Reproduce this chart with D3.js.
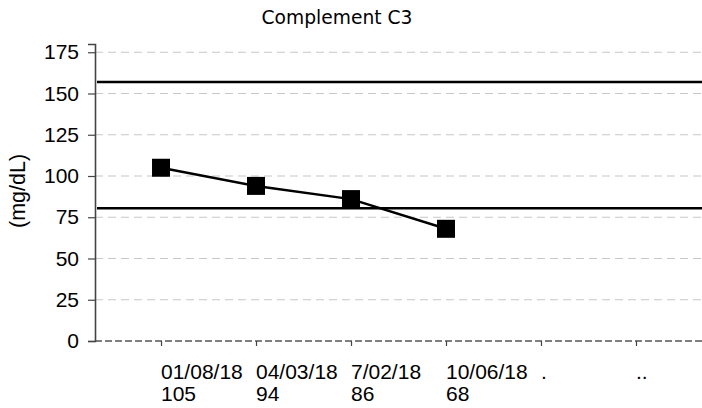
<!DOCTYPE html>
<html lang="en">
<head>
<meta charset="utf-8">
<title>Complement C3</title>
<script src="https://d3js.org/d3.v7.min.js"></script>
<style>
body { margin: 0; background: #fff; }
text { fill: #000; }
</style>
</head>
<body>
<div id="vis"></div>
<script type="text/javascript">

/////////////////// Data //////////////
var dates = ["01/08/18", "04/03/18", "7/02/18", "10/06/18", ".", ".."];
var values = [105, 94, 86, 68];
var refLow = 80.5, refHigh = 157;
var yTicks = [0, 25, 50, 75, 100, 125, 150, 175];

/////////////////// Var //////////////
var width = 702;
var height = 408;
var margin = {top: 44, right: 0, bottom: 67, left: 95};

var svg = d3.select("#vis")
    .append("svg")
    .attr("width", width)
    .attr("height", height);

var x = d3.scalePoint()
    .domain(dates)
    .range([margin.left, width - margin.right])
    .padding(0.695);

var y = d3.scaleLinear()
    .domain([0, 180])
    .range([height - margin.bottom, margin.top]);

// title
svg.append("text")
    .attr("x", 337)
    .attr("y", 24)
    .attr("text-anchor", "middle")
    .style("font-family", "DejaVu Sans")
    .style("font-size", "18.7px")
    .text("Complement C3");

// y label
svg.append("text")
    .attr("transform", "translate(25,191) rotate(-90)")
    .attr("text-anchor", "middle")
    .style("font-family", "Liberation Sans, Arial")
    .style("font-size", "21.5px")
    .text("(mg/dL)");

//============================== Grid
svg.append("g")
    .selectAll("line")
    .data(yTicks.filter(function(d) { return d > 0; }))
    .enter().append("line")
    .attr("x1", margin.left)
    .attr("x2", width)
    .attr("y1", function(d) { return y(d); })
    .attr("y2", function(d) { return y(d); })
    .style("stroke", "#c8c8c8")
    .style("stroke-width", 1.2)
    .style("stroke-dasharray", "8,5");

// zero line
svg.append("line")
    .attr("x1", margin.left)
    .attr("x2", width)
    .attr("y1", y(0))
    .attr("y2", y(0))
    .style("stroke", "#000")
    .style("stroke-width", 1.2)
    .style("stroke-dasharray", "7,3");

//============================== Axes
var yAxis = svg.append("g")
    .attr("transform", "translate(" + margin.left + ",0)")
    .call(d3.axisLeft(y).tickValues(yTicks).tickSize(7).tickPadding(9));
yAxis.select(".domain").style("stroke", "#444").style("stroke-width", 1.6);
yAxis.selectAll(".tick line").style("stroke", "#444").style("stroke-width", 1.2);
yAxis.selectAll("text")
    .style("font-family", "Liberation Sans, Arial")
    .style("font-size", "21px")
    .style("fill", "#000");

var xAxis = svg.append("g")
    .attr("transform", "translate(0," + y(0) + ")")
    .call(d3.axisBottom(x).tickSize(5).tickFormat(""));
xAxis.select(".domain").remove();
xAxis.selectAll(".tick line").style("stroke", "#444").style("stroke-width", 1.2);

// two-line tick labels
var xl = svg.append("g")
    .style("font-family", "Liberation Sans, Arial")
    .style("font-size", "21px");
xl.selectAll("text.d")
    .data(dates)
    .enter().append("text")
    .attr("class", "d")
    .attr("x", function(d) { return x(d); })
    .attr("y", 379)
    .text(function(d) { return d; });
xl.selectAll("text.v")
    .data(values)
    .enter().append("text")
    .attr("class", "v")
    .attr("x", function(d, i) { return x(dates[i]); })
    .attr("y", 401)
    .text(function(d) { return d; });

//============================== Reference lines
svg.selectAll("line.ref")
    .data([refLow, refHigh])
    .enter().append("line")
    .attr("class", "ref")
    .attr("x1", margin.left + 2)
    .attr("x2", width)
    .attr("y1", function(d) { return y(d); })
    .attr("y2", function(d) { return y(d); })
    .style("stroke", "#000")
    .style("stroke-width", 2.5);

//============================== Series
var line = d3.line()
    .x(function(d, i) { return x(dates[i]); })
    .y(function(d) { return y(d); });

svg.append("path")
    .datum(values)
    .attr("d", line)
    .style("fill", "none")
    .style("stroke", "#000")
    .style("stroke-width", 2.5);

var s = 18;
svg.selectAll("rect.pt")
    .data(values)
    .enter().append("rect")
    .attr("class", "pt")
    .attr("x", function(d, i) { return x(dates[i]) - s / 2; })
    .attr("y", function(d) { return y(d) - s / 2; })
    .attr("width", s)
    .attr("height", s)
    .style("fill", "#000");

</script>
</body>
</html>
